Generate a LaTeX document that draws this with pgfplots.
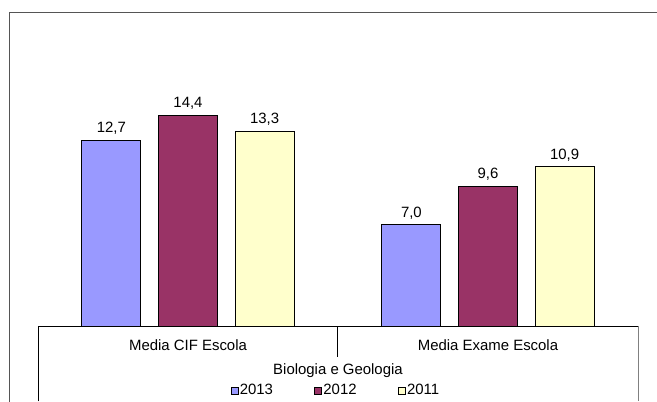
\documentclass[border=0pt]{standalone}
\usepackage{pgfplots}
\pgfplotsset{compat=1.18}
\usepackage{fontspec}
\setmainfont{Liberation Sans}
\definecolor{c2013}{HTML}{9999FF}
\definecolor{c2012}{HTML}{993366}
\definecolor{c2011}{HTML}{FFFFCC}
\definecolor{framegray}{HTML}{555555}
\begin{document}
\fontsize{11.2}{13.4}\selectfont
\begin{tikzpicture}
  \begin{axis}[
      at={(28.5pt,56.625pt)}, anchor=south west,
      x=225pt, y=11.115pt,
      xmin=-0.5, xmax=1.5, ymin=0.13, ymax=20.13,
      axis lines*=left,
      axis line style={draw=none},
      ytick=\empty,
      xtick={0,1},
      xticklabels={Media CIF Escola, Media Exame Escola},
      major tick length=0pt,
      xticklabel style={anchor=center, yshift=-14.25pt},
      xlabel={Biologia e Geologia},
      xlabel style={at={(axis description cs:0.5,-0.1485)}, anchor=center},
      ybar=13.2pt,
      bar width=44.25pt,
      /pgf/number format/assume math mode=true,
      nodes near coords={\pgfmathprintnumber[fixed,fixed zerofill,precision=1,use comma]{\pgfplotspointmeta}},
      every node near coord/.append style={text=black},
      legend columns=3,
      legend style={at={(axis description cs:0.496,-0.216)}, anchor=center,
        draw=none, fill=none, nodes={inner sep=1pt},
        /tikz/every even column/.append style={column sep=30pt}},
      legend image code/.code={\draw[#1,draw=black,line width=0.6pt] (0pt,-2.6pt) rectangle (5.2pt,2.6pt);},
    ]
    \addplot[fill=c2013, draw=black, line width=0.75pt] coordinates {(0,12.7) (1,7.0)};
    \addplot[fill=c2012, draw=black, line width=0.75pt] coordinates {(0,14.4) (1,9.6)};
    \addplot[fill=c2011, draw=black, line width=0.75pt] coordinates {(0,13.3) (1,10.9)};
    \legend{2013,2012,2011}
  \end{axis}
  \begin{scope}[x=0.75pt, y=0.75pt]
    \draw[framegray, line width=1pt] (9.5,0) -- (9.5,389.5) -- (657,389.5);
    \draw[black, line width=0.75pt] (38,0.5) -- (38,75.5) -- (638,75.5);
    \draw[gray, line width=0.75pt] (638,75.5) -- (638,0.5);
    \draw[black, line width=0.75pt] (337.5,75.5) -- (337.5,45);
  \end{scope}
  \pgfresetboundingbox
  \useasboundingbox (0,0) rectangle (492.75pt,301.5pt);
\end{tikzpicture}
\end{document}
